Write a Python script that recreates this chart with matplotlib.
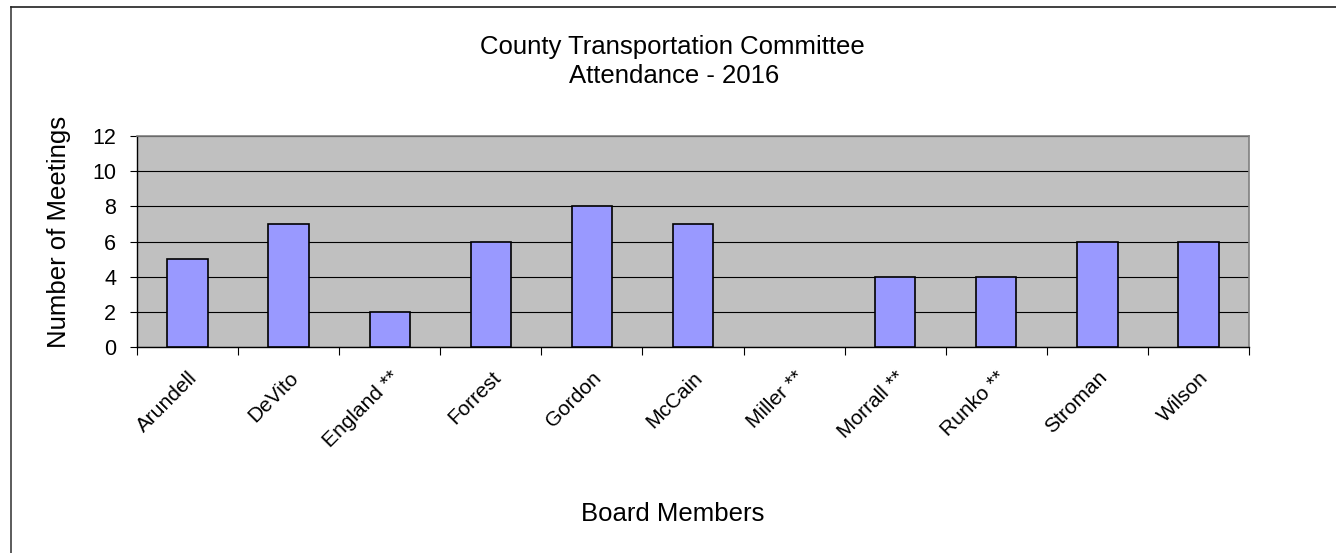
import matplotlib
matplotlib.use("Agg")
import matplotlib.pyplot as plt
from matplotlib.lines import Line2D
import numpy as np

plt.rcParams['font.family'] = ['Liberation Sans', 'DejaVu Sans']

members = ["Arundell", "DeVito", "England **", "Forrest", "Gordon", "McCain",
           "Miller **", "Morrall **", "Runko **", "Stroman", "Wilson"]
meetings = [5, 7, 2, 6, 8, 7, 0, 4, 4, 6, 6]
yticks = [0, 2, 4, 6, 8, 10, 12]

W, H = 1336, 553
fig = plt.figure(figsize=(W / 100, H / 100), dpi=100)
fig.patch.set_facecolor('white')

# outer chart border (left and top visible)
fig.add_artist(Line2D([11 / W, 11 / W], [0, 1 - 7 / H], transform=fig.transFigure,
                      color='#404040', lw=1.2))
fig.add_artist(Line2D([11 / W, 1], [1 - 7 / H, 1 - 7 / H], transform=fig.transFigure,
                      color='#202020', lw=1.2))

left, right, top, bottom = 137, 1249, 136, 347
ax = fig.add_axes([left / W, 1 - bottom / H, (right - left) / W, (bottom - top) / H])
ax.set_facecolor('#C0C0C0')

x = np.arange(len(members))
edges = ['black' if v > 0 else 'none' for v in meetings]
ax.bar(x, meetings, width=0.4, color='#9999FF', edgecolor=edges, linewidth=1.2, zorder=3)

ax.set_xlim(-0.5, len(members) - 0.5)
ax.set_ylim(0, 12)
ax.set_yticks(yticks)
ax.set_yticklabels([str(v) for v in yticks], fontsize=15.5)
ax.yaxis.grid(True, color='black', linewidth=0.8, zorder=1)
ax.set_axisbelow(True)

ax.set_xticks(x)
ax.set_xticklabels(members, rotation=45, ha='right', rotation_mode='anchor', fontsize=15)
ax.set_xticks(np.arange(len(members) + 1) - 0.5, minor=True)
ax.tick_params(axis='x', which='major', length=0, pad=15)
ax.tick_params(axis='x', which='minor', length=6, width=0.8, color='black')
ax.tick_params(axis='y', length=5, width=0.8, color='black', pad=10)

for s in ['top', 'right']:
    ax.spines[s].set_color('#808080')
    ax.spines[s].set_linewidth(1.2)
for s in ['left', 'bottom']:
    ax.spines[s].set_color('black')
    ax.spines[s].set_linewidth(1.0)

fig.text(672 / W, 1 - 47 / H, "County Transportation Committee", ha='center', va='center',
         fontsize=18.5)
fig.text(674 / W, 1 - 76 / H, "Attendance - 2016", ha='center', va='center', fontsize=18.5)
fig.text(59 / W, 1 - 232 / H, "Number of Meetings", ha='center', va='center',
         rotation=90, fontsize=18.5)
fig.text(673 / W, 1 - 514 / H, "Board Members", ha='center', va='center', fontsize=18.5)

fig.savefig("out.png", dpi=100)
